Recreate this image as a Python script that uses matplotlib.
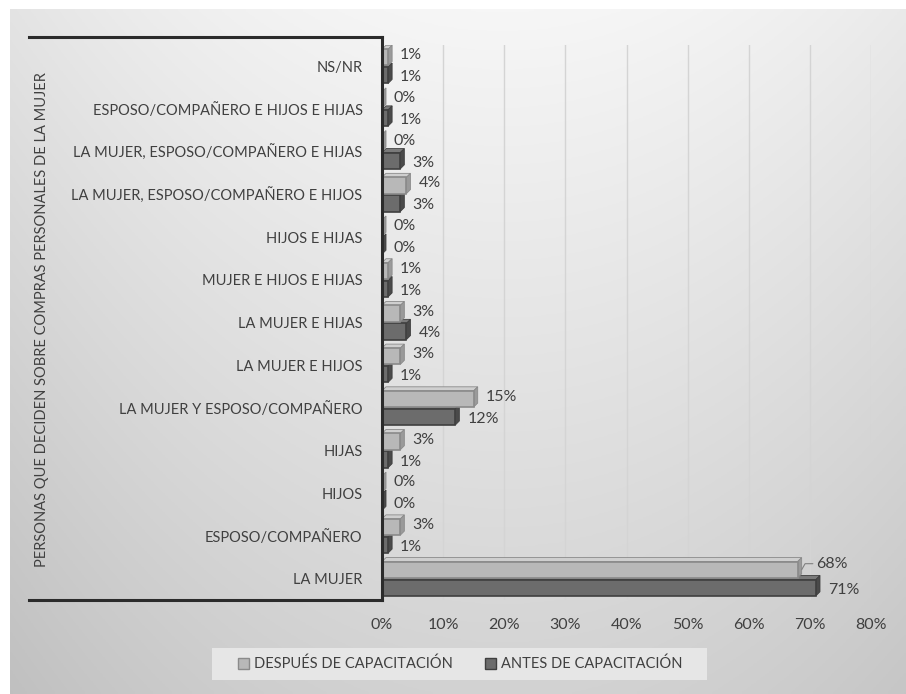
import matplotlib
matplotlib.use("Agg")
import matplotlib.pyplot as plt
import numpy as np
from matplotlib.lines import Line2D
from matplotlib.patches import Polygon

plt.rcParams['font.family'] = ['Lato', 'DejaVu Sans']

# data, bottom to top as drawn
categorias = ['LA MUJER', 'ESPOSO/COMPAÑERO', 'HIJOS', 'HIJAS',
              'LA MUJER Y ESPOSO/COMPAÑERO', 'LA MUJER E HIJOS',
              'LA MUJER E HIJAS', 'MUJER E HIJOS E HIJAS', 'HIJOS E HIJAS',
              'LA MUJER, ESPOSO/COMPAÑERO E HIJOS',
              'LA MUJER, ESPOSO/COMPAÑERO E HIJAS',
              'ESPOSO/COMPAÑERO E HIJOS E HIJAS', 'NS/NR']
despues = [68, 3, 0, 3, 15, 3, 3, 1, 0, 4, 0, 0, 1]
antes = [71, 1, 0, 1, 12, 1, 4, 1, 0, 3, 3, 1, 1]
xticks = [0, 10, 20, 30, 40, 50, 60, 70, 80]
ylabel = 'PERSONAS QUE DECIDEN SOBRE COMPRAS PERSONALES DE LA MUJER'
serie_despues = 'DESPUÉS DE CAPACITACIÓN'
serie_antes = 'ANTES DE CAPACITACIÓN'

W, H = 906, 694
fig = plt.figure(figsize=(W / 100, H / 100), dpi=100)
fig.patch.set_facecolor('white')

def fx(px):
    return px / W

def fy(py):
    return 1 - py / H

# grey gradient background
bg = fig.add_axes([fx(10), 0, fx(W - 10), fy(9)], zorder=-10)
yy = np.linspace(0, 1, 200)[:, None]
xx = np.linspace(0, 1, 300)[None, :]
g = 0.965 - 0.14 * yy - 0.06 * (np.abs(xx - 0.55) * 2) ** 2
bg.imshow(np.dstack([g, g, g]), aspect='auto', extent=[0, 1, 0, 1], vmin=0, vmax=1)
bg.axis('off')

# main axes
x0, x1 = 382, 871
y0, y1 = 45, 600
ax = fig.add_axes([fx(x0), fy(y1), fx(x1 - x0), (y1 - y0) / H])
ax.patch.set_alpha(0)
ax.set_xlim(0, 80)
ax.set_ylim(-0.5, len(categorias) - 0.5)

pos = np.arange(len(categorias))
h = 0.38
off = 0.21
light = '#b8b8b8'
dark = '#6c6c6c'
# depth of the 3d look, 4 px in data units
dx = 4 * 80 / (x1 - x0)
dy = 4 * len(categorias) / (y1 - y0)

def bar3d(y, v, face, top, side, edge):
    yb, yt = y - h / 2, y + h / 2
    ax.add_patch(Polygon([(0, yt), (v, yt), (v + dx, yt + dy), (dx, yt + dy)],
                         facecolor=top, edgecolor=edge, lw=0.6, zorder=3))
    ax.add_patch(Polygon([(v, yb), (v + dx, yb + dy), (v + dx, yt + dy), (v, yt)],
                         facecolor=side, edgecolor=edge, lw=0.6, zorder=3))
    ax.barh(y, v, height=h, color=face, edgecolor=edge, linewidth=1.2, zorder=4)

for i in range(len(categorias)):
    bar3d(pos[i] - off, antes[i], dark, '#7a7a7a', '#4a4a4a', '#3f3f3f')
    bar3d(pos[i] + off, despues[i], light, '#cfcfcf', '#9a9a9a', '#8a8a8a')

txt = '#404040'
fs_num = 11.5
for i in range(len(categorias)):
    if despues[i] == 68:
        ax.annotate(f'{despues[i]}%', xy=(despues[i] + dx, pos[i] + off), xytext=(14, 6),
                    textcoords='offset pixels', fontsize=fs_num, color=txt, va='center',
                    arrowprops=dict(arrowstyle='-', color='#808080', lw=0.8,
                                    connectionstyle='angle,angleA=0,angleB=60', shrinkA=0, shrinkB=0))
    else:
        ax.annotate(f'{despues[i]}%', xy=(despues[i] + dx, pos[i] + off), xytext=(8, 2),
                    textcoords='offset pixels', fontsize=fs_num, color=txt, va='center')
    ax.annotate(f'{antes[i]}%', xy=(antes[i] + dx, pos[i] - off), xytext=(8, -2),
                textcoords='offset pixels', fontsize=fs_num, color=txt, va='center')

ax.set_xticks(xticks)
ax.set_xticklabels([f'{t}%' for t in xticks], fontsize=fs_num, color=txt)
ax.set_yticks(pos)
ax.set_yticklabels(categorias, fontsize=10.5, color=txt)
ax.tick_params(axis='both', length=0)
ax.tick_params(axis='x', pad=13)
ax.tick_params(axis='y', pad=14)
for s in ax.spines.values():
    s.set_visible(False)
ax.grid(axis='x', color='#d4d4d4', linewidth=1, zorder=0)
ax.set_axisbelow(True)

# left panel frame
lc = '#2b2b2b'
fig.add_artist(Line2D([fx(29), fx(x0)], [fy(37), fy(37)], color=lc, lw=2.2))
fig.add_artist(Line2D([fx(x0), fx(x0)], [fy(37), fy(y1)], color=lc, lw=2.2))
fig.add_artist(Line2D([fx(29), fx(x0)], [fy(y1), fy(y1)], color=lc, lw=2.2))

fig.text(fx(42), fy(320), ylabel, rotation=90, ha='center', va='center', fontsize=10.5, color=txt)

# legend
fig.patches.append(plt.Rectangle((fx(212), fy(680)), fx(707 - 212), (680 - 648) / H,
                                 transform=fig.transFigure, facecolor='#e6e6e6', edgecolor='none', zorder=1))
handles = [plt.Rectangle((0, 0), 1, 1, facecolor=light, edgecolor='#8a8a8a'),
           plt.Rectangle((0, 0), 1, 1, facecolor=dark, edgecolor='#3f3f3f')]
fig.legend(handles, [serie_despues, serie_antes], loc='center', bbox_to_anchor=(fx(460), fy(664)),
           ncol=2, frameon=False, fontsize=10.5, labelcolor=txt, handlelength=0.8, handleheight=0.8,
           handletextpad=0.3, columnspacing=2.2)

fig.savefig('out.png', dpi=100)
